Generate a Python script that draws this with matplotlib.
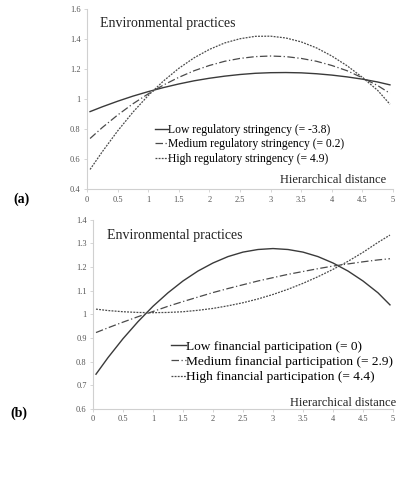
import numpy as np
import matplotlib
matplotlib.use('Agg')
import matplotlib.pyplot as plt

plt.rcParams['font.family'] = ['Liberation Serif', 'DejaVu Serif']

# values at these hierarchical distances
dist = [0.05, 0.25, 0.5, 0.75, 1.0, 1.25, 1.5, 1.75, 2.0, 2.25, 2.5,
        2.75, 3.0, 3.25, 3.5, 3.75, 4.0, 4.25, 4.5, 4.75, 4.95]

# panel (a): regulatory stringency
reg_low = [0.917, 0.949, 0.986, 1.020, 1.050, 1.077, 1.101, 1.122, 1.139, 1.153, 1.164,
           1.172, 1.176, 1.177, 1.175, 1.169, 1.160, 1.148, 1.133, 1.114, 1.095]
reg_med = [0.738, 0.811, 0.894, 0.969, 1.035, 1.094, 1.145, 1.189, 1.224, 1.252, 1.271,
           1.283, 1.287, 1.283, 1.271, 1.252, 1.224, 1.189, 1.142, 1.090, 1.039]
reg_high = [0.532, 0.650, 0.788, 0.913, 1.024, 1.121, 1.205, 1.275, 1.331, 1.374, 1.402,
            1.418, 1.419, 1.407, 1.381, 1.341, 1.287, 1.222, 1.145, 1.058, 0.966]
reg_labels = ['Low regulatory stringency (= -3.8)',
              'Medium regulatory stringency (= 0.2)',
              'High regulatory stringency (= 4.9)']

# panel (b): financial participation
fin_low = [0.747, 0.817, 0.897, 0.969, 1.034, 1.091, 1.141, 1.183, 1.217, 1.244, 1.263,
           1.274, 1.278, 1.274, 1.263, 1.244, 1.217, 1.183, 1.141, 1.091, 1.040]
fin_med = [0.923, 0.943, 0.967, 0.990, 1.012, 1.034, 1.054, 1.073, 1.092, 1.109, 1.125,
           1.141, 1.155, 1.169, 1.181, 1.193, 1.204, 1.213, 1.222, 1.230, 1.235]
fin_high = [1.022, 1.016, 1.011, 1.008, 1.007, 1.008, 1.011, 1.017, 1.025, 1.036, 1.049,
            1.065, 1.084, 1.106, 1.131, 1.159, 1.190, 1.224, 1.262, 1.304, 1.335]
fin_labels = ['Low financial participation (= 0)',
              'Medium financial participation (= 2.9)',
              'High financial participation (= 4.4)']

xticks = [0, 0.5, 1, 1.5, 2, 2.5, 3, 3.5, 4, 4.5, 5]
xticklabels = ['0', '0.5', '1', '1.5', '2', '2.5', '3', '3.5', '4', '4.5', '5']

styles = [dict(color='#3a3a3a', linestyle='-', linewidth=1.0),
          dict(color='#4a4a4a', linestyle=(0, (6, 2, 1, 2)), linewidth=0.9),
          dict(color='#4a4a4a', linestyle=(0, (1.5, 1)), linewidth=0.9)]


def style_axes(ax, ylim, yticks):
    ax.set_xlim(0, 5)
    ax.set_ylim(*ylim)
    ax.set_xticks(xticks)
    ax.set_xticklabels(xticklabels)
    ax.set_yticks(yticks)
    ax.set_yticklabels(['%g' % v for v in yticks])
    for s in ['top', 'right']:
        ax.spines[s].set_visible(False)
    for s in ['left', 'bottom']:
        ax.spines[s].set_color('#d0d0d0')
        ax.spines[s].set_linewidth(0.8)
    ax.tick_params(axis='both', labelsize=6, colors='#d0d0d0', labelcolor='#555555',
                   length=2.5, width=0.6, pad=2)


def draw_panel(ax, series, labels, leg_pos, fsize, spacing):
    lines = []
    for ys, st in zip(series, styles):
        ln, = ax.plot(dist, ys, **st)
        lines.append(ln)
    ax.legend(lines, labels, loc='upper left', bbox_to_anchor=leg_pos, frameon=False,
              fontsize=fsize, handlelength=1.1, handletextpad=0.05, labelspacing=spacing,
              borderpad=0, borderaxespad=0)


fig = plt.figure(figsize=(4.05, 4.78), dpi=100)

ax1 = fig.add_axes([0.2148, 0.604, 0.7556, 0.3772])
draw_panel(ax1, [reg_low, reg_med, reg_high], reg_labels, (0.222, 0.364), 8.4, 0.22)
style_axes(ax1, (0.4, 1.6), [0.4, 0.6, 0.8, 1.0, 1.2, 1.4, 1.6])
ax1.text(0.042, 0.922, 'Environmental practices', transform=ax1.transAxes,
         fontsize=10, va='center', ha='left', color='#222222')
ax1.text(0.977, 0.052, 'Hierarchical distance', transform=ax1.transAxes,
         fontsize=9, va='center', ha='right', color='#222222')
fig.text(13 / 405, 1 - 199 / 478, '(a)', fontsize=10, fontweight='bold',
         va='center', ha='left')

ax2 = fig.add_axes([0.2296, 0.1444, 0.7407, 0.396])
draw_panel(ax2, [fin_low, fin_med, fin_high], fin_labels, (0.26, 0.362), 9.6, 0.22)
style_axes(ax2, (0.6, 1.4), [0.6, 0.7, 0.8, 0.9, 1.0, 1.1, 1.2, 1.3, 1.4])
ax2.text(0.047, 0.919, 'Environmental practices', transform=ax2.transAxes,
         fontsize=10, va='center', ha='left', color='#222222')
ax2.text(1.01, 0.032, 'Hierarchical distance', transform=ax2.transAxes,
         fontsize=9, va='center', ha='right', color='#222222')
fig.text(10 / 405, 1 - 413 / 478, '(b)', fontsize=10, fontweight='bold',
         va='center', ha='left')

plt.savefig('out.png', dpi=100)
